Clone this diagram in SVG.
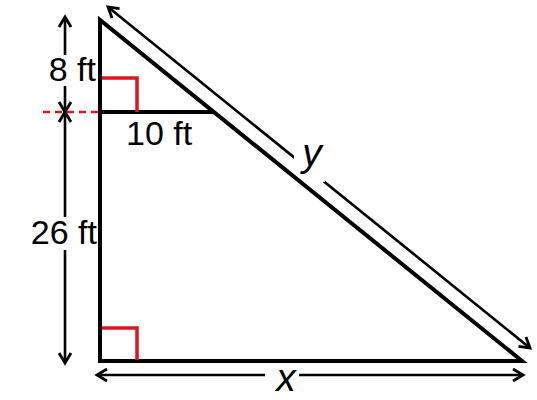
<svg xmlns="http://www.w3.org/2000/svg" width="537" height="400" viewBox="0 0 537 400">
<style>
.thick{stroke:#000;stroke-width:4;fill:none}
.dim{stroke:#000;stroke-width:2.6;fill:none}
.red{stroke:#e0141e;stroke-width:3.5;fill:none}
.lbl{font-family:"Liberation Sans",Arial,sans-serif;font-size:34px;fill:#000}
.var{font-family:"Liberation Sans",Arial,sans-serif;font-size:39px;font-style:italic;fill:#000}
.mask{fill:#fff}
</style>
<defs>
<marker id="ah" viewBox="0 0 12 14" refX="11" refY="7" markerWidth="12" markerHeight="14" markerUnits="userSpaceOnUse" orient="auto-start-reverse" overflow="visible">
<path d="M1,1 L11,7 L1,13" fill="none" stroke="#000" stroke-width="2.8"/>
</marker>
</defs>
<rect width="537" height="400" fill="#fff"/>
<g id="connectors">
<line class="dim" x1="65" y1="17" x2="65" y2="112" marker-start="url(#ah)" marker-end="url(#ah)"/>
<line class="dim" x1="65" y1="112" x2="65" y2="363" marker-start="url(#ah)" marker-end="url(#ah)"/>
<line class="dim" x1="97" y1="375" x2="523" y2="375" marker-start="url(#ah)" marker-end="url(#ah)"/>
<line class="dim" x1="108" y1="7" x2="530" y2="348" marker-start="url(#ah)" marker-end="url(#ah)"/>
<line x1="43" y1="112" x2="98" y2="112" stroke="#e0141e" stroke-width="2.5" stroke-dasharray="7 5"/>
</g>
<g id="label-8ft">
<rect class="mask" x="43" y="55" width="54" height="31"/>
<text class="lbl" x="96" y="81" text-anchor="end">8 ft</text>
</g>
<g id="label-26ft">
<rect class="mask" x="22" y="217" width="76" height="33"/>
<text class="lbl" x="97" y="244" text-anchor="end">26 ft</text>
</g>
<g id="label-10ft">
<text class="lbl" x="126" y="145">10 ft</text>
</g>
<g id="label-x">
<rect class="mask" x="265" y="366" width="34" height="30"/>
<text class="var" x="286" y="391" text-anchor="middle">x</text>
</g>
<g id="label-y">
<rect class="mask" x="294" y="136" width="31" height="46"/>
<text class="var" x="312" y="166" text-anchor="middle">y</text>
</g>
<g id="triangle">
<polygon class="thick" points="100,20 100,361 522,361"/>
<line class="thick" x1="100" y1="112" x2="214" y2="112"/>
</g>
<g id="right-angles">
<polyline class="red" points="102,78 137,78 137,112"/>
<polyline class="red" points="102,328 137,328 137,360"/>
</g>
</svg>
